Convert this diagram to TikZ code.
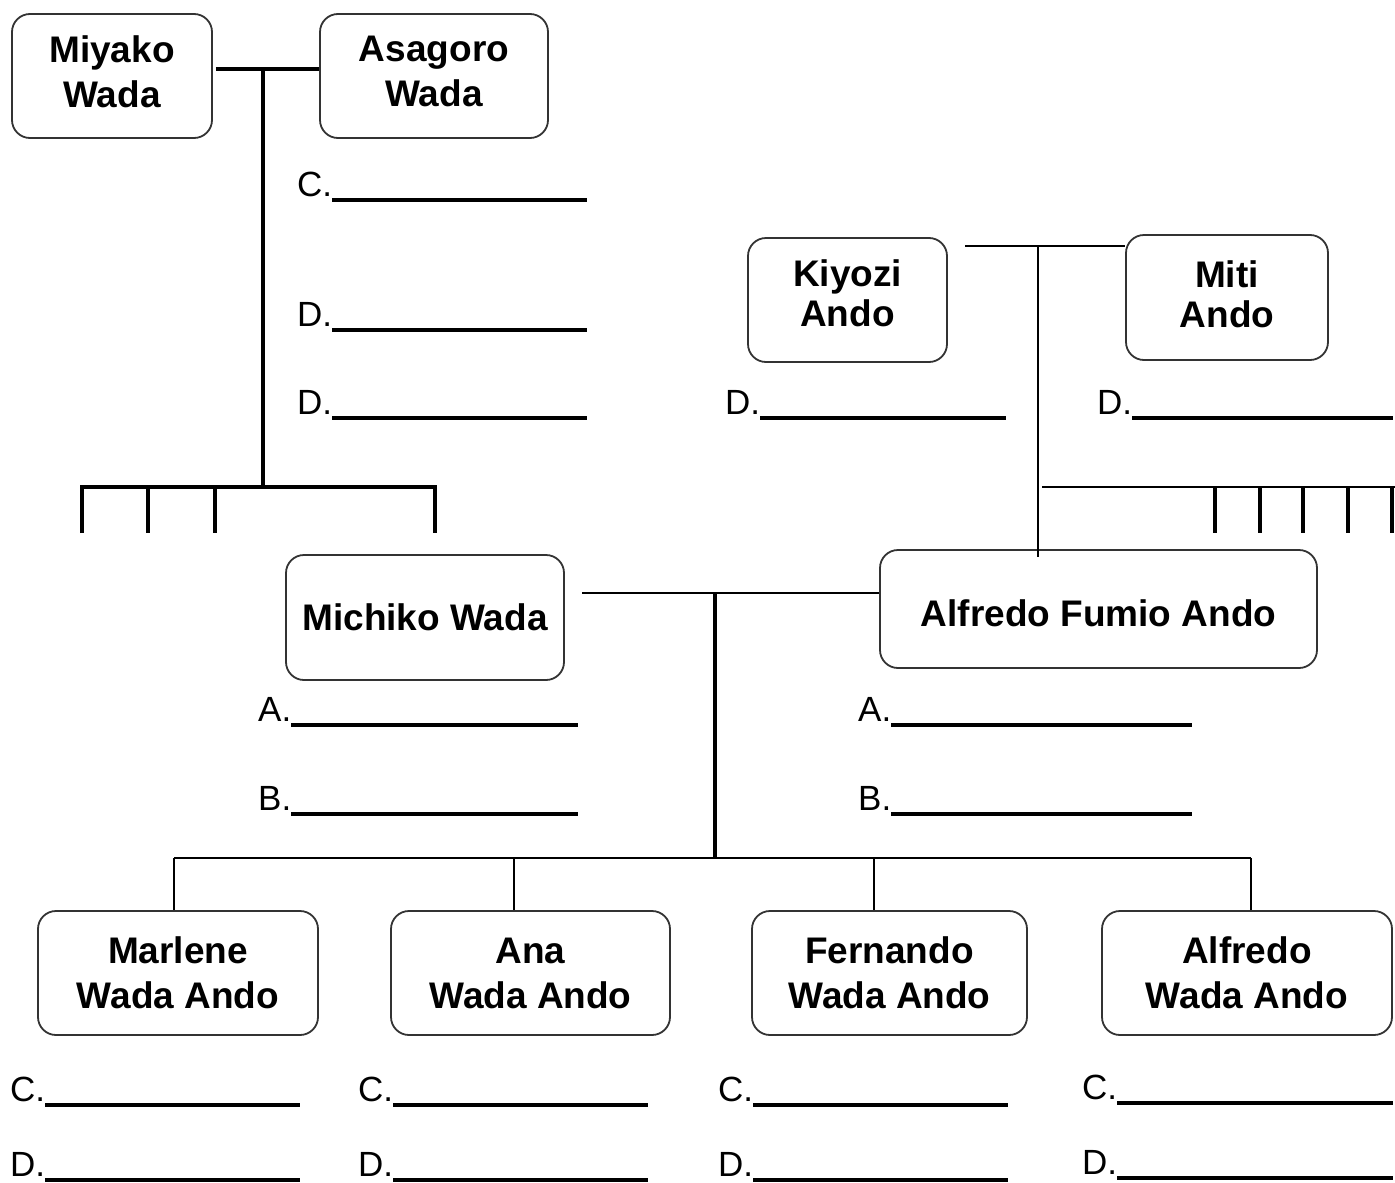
\documentclass[tikz,border=0pt]{standalone}
\usepackage{fontspec}
\setmainfont{Liberation Sans}
\newcommand\blankfield[5]{%
  \node[lbl] (#1) at (#2,#3) {#4.};
  \draw[blankln] (#1.base east) ++(0,4) -- (#5,#3+4);}
\newcommand\padlow[1]{\rule[-#1]{0pt}{#1}}
\newcommand\padhigh[1]{\rule{0pt}{#1}}
\begin{document}
\begin{tikzpicture}[x=1pt,y=-1pt,
  pbox/.style={draw=black!80, line width=1.8pt, rounded corners=18pt, align=center,
    inner sep=0pt, font=\bfseries\fontsize{37}{45}\selectfont},
  pboxtight/.style={pbox, font=\bfseries\fontsize{37}{40}\selectfont},
  lbl/.style={inner sep=0pt, font=\fontsize{35}{40}\selectfont, anchor=base west},
  blankln/.style={line width=3.2pt},
  thickln/.style={line width=3.6pt},
  thinln/.style={line width=2pt}]
\useasboundingbox (0,0) rectangle (1395,1183);

% grandparents (Wada)
\node[pbox, minimum width=200pt, minimum height=124pt] (miyako) at (112,76) {Miyako\\Wada\padlow{9pt}};
\node[pbox, minimum width=228pt, minimum height=124pt] (asagoro) at (434,76) {Asagoro\\Wada\padlow{9pt}};
% grandparents (Ando)
\node[pboxtight, minimum width=199pt, minimum height=124pt] (kiyozi) at (847.5,300) {Kiyozi\\Ando\padlow{14pt}};
\node[pboxtight, minimum width=202pt, minimum height=125pt] (miti) at (1227,297.5) {Miti\\Ando\padlow{6pt}};
% parents
\node[pbox, minimum width=278pt, minimum height=125pt] (michiko) at (425,617.5) {Michiko Wada};
\node[pbox, minimum width=437pt, minimum height=118pt] (alfredof) at (1098.5,609) {\padhigh{36pt}Alfredo Fumio Ando};
% children
\node[pbox, minimum width=280pt, minimum height=124pt] (marlene) at (178,973) {Marlene\\Wada Ando};
\node[pbox, minimum width=279pt, minimum height=124pt] (ana) at (530.5,973) {Ana\\Wada Ando};
\node[pbox, minimum width=275pt, minimum height=124pt] (fernando) at (889.5,973) {Fernando\\Wada Ando};
\node[pbox, minimum width=290pt, minimum height=124pt] (alfredo) at (1247,973) {Alfredo\\Wada Ando};

% Wada couple connector
\draw[thickln] ([xshift=3pt,yshift=7pt]miyako.east) -- ([yshift=7pt]asagoro.west);
\coordinate (wadaJ) at (263,69);
\coordinate (wadaB) at (263,487);
\draw[thickln] (wadaJ) -- (wadaB);
\coordinate (wb1) at (82,487);
\coordinate (wb2) at (148,487);
\coordinate (wb3) at (215,487);
\coordinate (wb4) at (435,487);
\draw[thickln] ([yshift=-46pt]wb1) -- (wb1) -- (wb4) -- ([yshift=-46pt]wb4);
\draw[thickln] (wb2) -- ([yshift=-46pt]wb2);
\draw[thickln] (wb3) -- ([yshift=-46pt]wb3);

% Ando couple connector
\coordinate (kmL) at (965,246);
\draw[thinln] (kmL) -- (kmL -| miti.west);
\coordinate (andoJ) at (1038,246);
\coordinate (andoE) at (1038,557);
\draw[thinln] (andoJ) -- (andoE);
\coordinate (ab0) at (1042,487);
\coordinate (ab6) at (1395,487);
\draw[thinln] (ab0) -- (ab6);
\foreach \x [count=\i] in {1215,1260,1303,1348,1392} {
  \coordinate (abt\i) at (\x,487);
  \draw[thickln] (abt\i) -- ++(0,46);
}

% parents connector
\coordinate (pL) at (582,593);
\draw[line width=2.2pt] (pL) -- (pL -| alfredof.west);
\coordinate (pJ) at (715,593);
\coordinate (pB) at (715,858);
\draw[thickln] (pJ) -- (pB);
\coordinate (cb1) at (174,858);
\coordinate (cb2) at (514,858);
\coordinate (cb3) at (874,858);
\coordinate (cb4) at (1251,858);
\draw[thinln] (cb1) -- (cb4);
\draw[thinln] (cb1) -- (cb1 |- marlene.north);
\draw[thinln] (cb2) -- (cb2 |- ana.north);
\draw[thinln] (cb3) -- (cb3 |- fernando.north);
\draw[thinln] (cb4) -- (cb4 |- alfredo.north);

% blanks
\blankfield{tc}{297}{196}{C}{587}
\blankfield{td1}{297}{326}{D}{587}
\blankfield{td2}{297}{414}{D}{587}
\blankfield{kd}{725}{414}{D}{1006}
\blankfield{md}{1097}{414}{D}{1393}
\blankfield{ma}{258}{721}{A}{578}
\blankfield{mb}{258}{810}{B}{578}
\blankfield{aa}{858}{721}{A}{1192}
\blankfield{ab}{858}{810}{B}{1192}
\blankfield{c1}{10}{1101}{C}{300}
\blankfield{d1}{10}{1176}{D}{300}
\blankfield{c2}{358}{1101}{C}{648}
\blankfield{d2}{358}{1176}{D}{648}
\blankfield{c3}{718}{1101}{C}{1008}
\blankfield{d3}{718}{1176}{D}{1008}
\blankfield{c4}{1082}{1099}{C}{1393}
\blankfield{d4}{1082}{1174}{D}{1393}
\end{tikzpicture}
\end{document}
